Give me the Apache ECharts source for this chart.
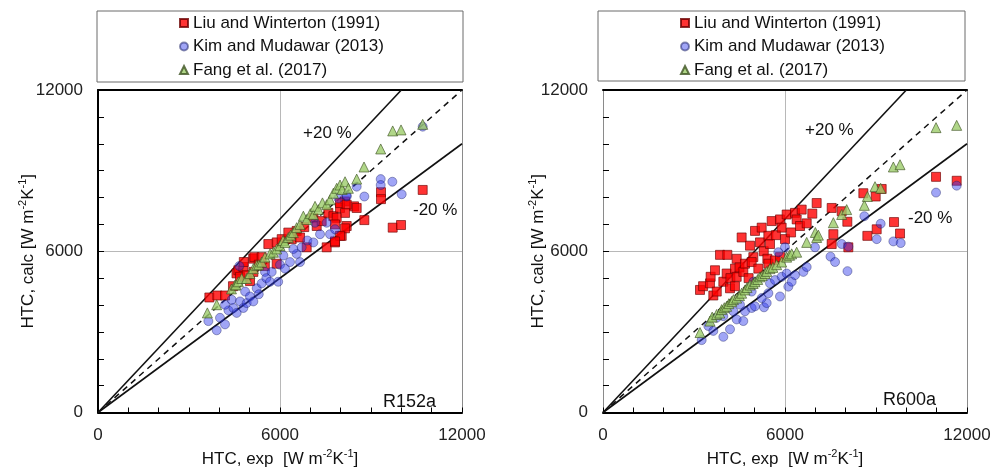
<!DOCTYPE html>
<html><head><meta charset="utf-8">
<script src="https://cdn.jsdelivr.net/npm/echarts@6/dist/echarts.min.js"></script>
<style>html,body{margin:0;padding:0;background:#fff}#c{width:1003px;height:473px}</style>
</head><body><div id="c"></div>
<script>
// ---- data ----
const seriesNames = ['Liu and Winterton (1991)', 'Kim and Mudawar (2013)', 'Fang et al. (2017)'];
const fluidLabels = ['R152a', 'R600a'];
const bandLabels = ['+20 %', '-20 %'];
const tickLabels = [0, 6000, 12000];
const axisMin = 0, axisMax = 12000, tickStep = 1000;

const diagonal = [[0, 0], [12000, 12000]];
const plus20 = [[0, 0], [10000, 12000]];
const minus20 = [[0, 0], [12000, 10000]];

// R152a (left panel): [HTC exp, HTC calc]
const r152aLiu = [[3671,4280],[3935,4353],[4187,4353],[4450,4700],[4565,5177],[4627,5292],[4682,5048],[4792,5414],[4807,5600],[4902,5109],[5011,4890],[5115,5725],[5121,5231],[5154,5780],[5300,5500],[5396,5780],[5500,5450],[5616,6268],[5891,6329],[5891,5536],[6056,6451],[6275,6695],[6385,6451],[6550,6756],[6660,6512],[6800,6900],[6880,6146],[7100,7244],[7210,6939],[7374,7122],[7539,6146],[7594,7427],[7759,7305],[7814,6329],[8034,6573],[8199,6939],[8144,7854],[7979,7610],[8440,7671],[7979,7793],[8198,7732],[8144,7427],[7869,7244],[7814,6999],[8144,6854],[7979,6573],[7814,6366],[8528,7610],[8781,7159],[9330,8196],[9330,7939],[9715,6878],[9990,6976],[10704,8281]];
const r152aKim = [[3638,3401],[3913,3059],[4187,3279],[4022,3523],[4300,3800],[4462,3889],[4187,4011],[4407,4194],[4572,3706],[4682,4133],[4792,3889],[4850,4500],[4902,4072],[5011,4316],[5121,4133],[5231,4621],[5300,4400],[5396,4804],[5506,5231],[5550,5000],[5671,4865],[5726,5231],[5940,4865],[6000,5500],[6110,5841],[6165,5353],[6330,5597],[6660,5597],[6550,5902],[6440,6085],[6715,6146],[6900,6400],[7100,6329],[7155,7061],[7320,6634],[7539,7061],[7649,6634],[7814,6817],[7924,7976],[8199,8037],[4660,5451],[8198,8074],[8528,8403],[8781,8037],[9320,8684],[9320,8464],[9704,8586],[10012,8122],[10704,10636]];
const r152aFang = [[3605,3706],[3913,4011],[4400,4600],[4517,4743],[4550,4750],[4627,4865],[4737,4987],[4902,4987],[5011,5170],[5121,5353],[5231,5475],[5300,5500],[5396,5597],[5506,5780],[5671,5902],[5781,5963],[5891,6085],[6000,6207],[6100,6400],[6165,6329],[6275,6512],[6350,6600],[6440,6695],[6550,6878],[6660,7000],[6770,7305],[6880,7183],[7000,7400],[7100,7366],[7155,7671],[7265,7549],[7400,7800],[7539,7732],[7649,7915],[7759,8159],[7869,8342],[7979,8464],[8050,8300],[8144,8586],[8254,8342],[8528,8684],[8770,9135],[9320,9806],[9715,10477],[9990,10514],[10704,10721]];

// R600a (right panel)
const r600aLiu = [[3198,4561],[3300,4700],[3637,4354],[3527,4805],[3549,5049],[3692,5293],[3750,4500],[3857,5866],[4099,5866],[3967,4866],[4187,4622],[4077,5171],[4200,5000],[4350,4700],[4352,5354],[4407,5049],[4407,5720],[4500,5400],[4626,5232],[4681,5537],[4571,6513],[4800,5000],[4846,6208],[4956,5781],[5011,6757],[4901,5598],[5176,6330],[5231,6879],[5300,6000],[5451,6574],[5506,6269],[5561,7123],[5700,6600],[5835,7184],[5890,6879],[6000,6452],[6055,7367],[6200,6700],[6330,7428],[6385,7184],[6495,6940],[6715,7038],[6550,7550],[6900,7400],[5418,5720],[5451,5537],[5670,5659],[5835,5781],[5121,5354],[7044,7794],[7539,7611],[7594,6635],[7539,6269],[7869,7488],[8055,7098],[8583,8159],[8990,8037],[9187,8318],[9023,6817],[9594,7086],[9792,6659],[8715,6573],[8088,6146],[10979,8769],[11660,8623]];
const r600aKim = [[3253,2694],[3472,3219],[3637,3036],[3747,3524],[3967,2816],[3967,3585],[4187,3097],[4297,3768],[4407,3463],[4516,4012],[4626,3402],[4681,3768],[4901,3890],[4901,4500],[4956,4866],[5011,3951],[5308,3914],[5396,4073],[5231,4256],[5451,4439],[5506,4805],[5670,4927],[5835,4317],[5890,5049],[6055,5171],[6110,4683],[6220,4866],[6330,5110],[6605,5232],[6715,5415],[5780,5964],[6000,6147],[6989,6147],[7500,5800],[7650,5600],[7869,6269],[8060,5260],[8088,6171],[8616,7305],[9154,7025],[9023,6451],[9572,6366],[9814,6305],[10979,8183],[11660,8440]];
const r600aFang = [[3198,2975],[3527,3402],[3600,3550],[3747,3646],[3850,3700],[3912,3829],[4000,3900],[4077,3951],[4150,4050],[4242,4134],[4300,4200],[4407,4256],[4500,4350],[4571,4439],[4681,4561],[4750,4650],[4846,4744],[4950,4800],[5011,4866],[5100,4950],[5176,5049],[5250,5100],[5341,5171],[5400,5250],[5506,5354],[5600,5400],[5725,5500],[5890,5598],[6055,5781],[6150,5850],[6220,5903],[6385,5964],[6715,6330],[7000,6700],[7044,6513],[7100,6600],[7594,7062],[7869,7367],[8033,7550],[8616,7708],[8715,8037],[8968,8403],[9154,8342],[9572,9135],[9792,9220],[10979,10599],[11660,10684]];

const panelData = [[r152aLiu, r152aKim, r152aFang], [r600aLiu, r600aKim, r600aFang]];

// ---- styles ----
const FONT = "'Liberation Sans', Arial, sans-serif";
const markerStyles = [
  { symbol: 'rect', size: 9, itemStyle: { color: '#ff0000', borderColor: '#6b0000', borderWidth: 0.8 } },
  { symbol: 'circle', size: 9, itemStyle: { color: 'rgba(50,60,235,0.58)', borderColor: 'rgba(15,20,90,0.6)', borderWidth: 0.8 } },
  { symbol: 'triangle', size: 10, itemStyle: { color: '#9ccc6a', borderColor: '#3d5222', borderWidth: 0.8 } }
];
const gridLefts = [98, 603];
const gridTop = 90, gridW = 364, gridH = 328;
const leftAxisStyles = [{ color: '#000', width: 2 }, { color: '#8a8a8a', width: 1 }];
const yNameGaps = [59, 54];

const xName = '{n|HTC, exp  [W m}{s|-2}{n|K}{s|-1}{n|]}';
const yName = '{n|HTC, calc [W m}{s|-2}{n|K}{s|-1}{n|]}';
const nameRich = {
  n: { fontSize: 17, fontFamily: FONT, color: '#111', lineHeight: 22 },
  s: { fontSize: 11, fontFamily: FONT, color: '#111', lineHeight: 22, verticalAlign: 'top', padding: [0, 0, 8, 0] }
};
const nTicks = (axisMax - axisMin) / tickStep + 1;
const splitColors = [];
for (let i = 0; i < nTicks; i++) splitColors.push(i === (nTicks - 1) / 2 ? '#b8b8b8' : 'rgba(0,0,0,0)');
const labelFmt = v => (tickLabels.indexOf(v) >= 0 ? String(v) : '');

const grids = [], xAxes = [], yAxes = [], series = [], legends = [], graphics = [];

for (let g = 0; g < 2; g++) {
  grids.push({ left: gridLefts[g], top: gridTop, width: gridW, height: gridH, containLabel: false });
  const common = { type: 'value', gridIndex: g, min: axisMin, max: axisMax, interval: tickStep };
  xAxes.push(Object.assign({}, common, {
    position: 'bottom',
    axisLine: { show: true, onZero: false, lineStyle: { color: '#000', width: 2 } },
    axisTick: { show: true, inside: true, interval: 0, length: 5, lineStyle: { color: '#000', width: 1 } },
    axisLabel: { fontSize: 17, fontFamily: FONT, color: '#222', margin: 14, interval: 0, formatter: labelFmt, showMinLabel: true, showMaxLabel: true, hideOverlap: false },
    splitLine: { show: true, interval: 0, lineStyle: { color: splitColors, width: 1 } },
    name: xName, nameLocation: 'middle', nameGap: 36, nameMoveOverlap: false,
    nameTextStyle: { rich: nameRich }
  }));
  xAxes.push(Object.assign({}, common, {
    position: 'top',
    axisLine: { show: true, onZero: false, lineStyle: { color: '#000', width: 2 } },
    axisTick: { show: false }, axisLabel: { show: false }, splitLine: { show: false }
  }));
  yAxes.push(Object.assign({}, common, {
    position: 'left',
    axisLine: { show: true, onZero: false, lineStyle: leftAxisStyles[g] },
    axisTick: { show: false },
    axisLabel: { fontSize: 17, fontFamily: FONT, color: '#222', margin: 15, interval: 0, formatter: labelFmt, showMinLabel: true, showMaxLabel: true, hideOverlap: false },
    splitLine: { show: true, interval: 0, lineStyle: { color: splitColors, width: 1 } },
    name: yName, nameLocation: 'middle', nameGap: yNameGaps[g], nameMoveOverlap: false,
    nameTextStyle: { rich: nameRich }
  }));
  yAxes.push(Object.assign({}, common, {
    position: 'right',
    axisLine: { show: true, onZero: false, lineStyle: { color: '#8a8a8a', width: 1 } },
    axisTick: { show: false }, axisLabel: { show: false }, splitLine: { show: false }
  }));
  // tick-only axis moved onto the left edge; its outward ticks point into the plot
  yAxes.push(Object.assign({}, common, {
    position: 'right', offset: -gridW,
    axisLine: { show: false, onZero: false },
    axisTick: { show: true, inside: false, interval: 0, length: 6, lineStyle: { color: '#000', width: 1 } },
    axisLabel: { show: false }, splitLine: { show: false }
  }));

  const xi = g * 2, yi = g * 3;
  series.push({ type: 'line', xAxisIndex: xi, yAxisIndex: yi, data: diagonal, symbol: 'none', silent: true,
    lineStyle: { color: '#111', width: 1.5, type: [6, 5] }, z: 1 });
  series.push({ type: 'line', xAxisIndex: xi, yAxisIndex: yi, data: plus20, symbol: 'none', silent: true,
    lineStyle: { color: '#111', width: 1.6 }, z: 1 });
  series.push({ type: 'line', xAxisIndex: xi, yAxisIndex: yi, data: minus20, symbol: 'none', silent: true,
    lineStyle: { color: '#111', width: 1.6 }, z: 1 });
  for (let s = 0; s < 3; s++) {
    series.push({
      type: 'scatter', name: seriesNames[s], xAxisIndex: xi, yAxisIndex: yi,
      data: panelData[g][s], symbol: markerStyles[s].symbol, symbolSize: markerStyles[s].size,
      itemStyle: markerStyles[s].itemStyle, z: 2 + s
    });
  }
  legends.push({
    orient: 'vertical', left: [179, 680][g], top: 13, padding: 0, itemGap: 3.5,
    itemWidth: 8, itemHeight: 8, selectedMode: false,
    textStyle: { fontSize: 17, fontFamily: FONT, color: '#111', lineHeight: 20 },
    data: seriesNames.map((n, i) => ({ name: n, icon: ['rect', 'circle', 'triangle'][i] }))
  });
}

const legendBoxes = [[97, 11, 366, 71], [598, 11, 367, 70]];
legendBoxes.forEach(b => graphics.push({ type: 'rect', shape: { x: b[0], y: b[1], width: b[2], height: b[3] },
  style: { fill: 'none', stroke: '#6a6a6a', lineWidth: 1 }, silent: true }));
const annos = [
  [bandLabels[0], 303, 133, 17], [bandLabels[1], 413, 210, 17], [fluidLabels[0], 383, 402, 18],
  [bandLabels[0], 805, 130, 17], [bandLabels[1], 908, 218, 17], [fluidLabels[1], 883, 400, 18]
];
annos.forEach(a => graphics.push({ type: 'text', x: a[1], y: a[2], silent: true, z: 10,
  style: { text: a[0], fontSize: a[3], fontFamily: FONT, fill: '#111', verticalAlign: 'middle' } }));

const chart = echarts.init(document.getElementById('c'), null, { renderer: 'canvas' });
chart.setOption({
  backgroundColor: '#fff', animation: false,
  grid: grids, xAxis: xAxes, yAxis: yAxes, series: series, legend: legends, graphic: graphics
});
</script></body></html>
